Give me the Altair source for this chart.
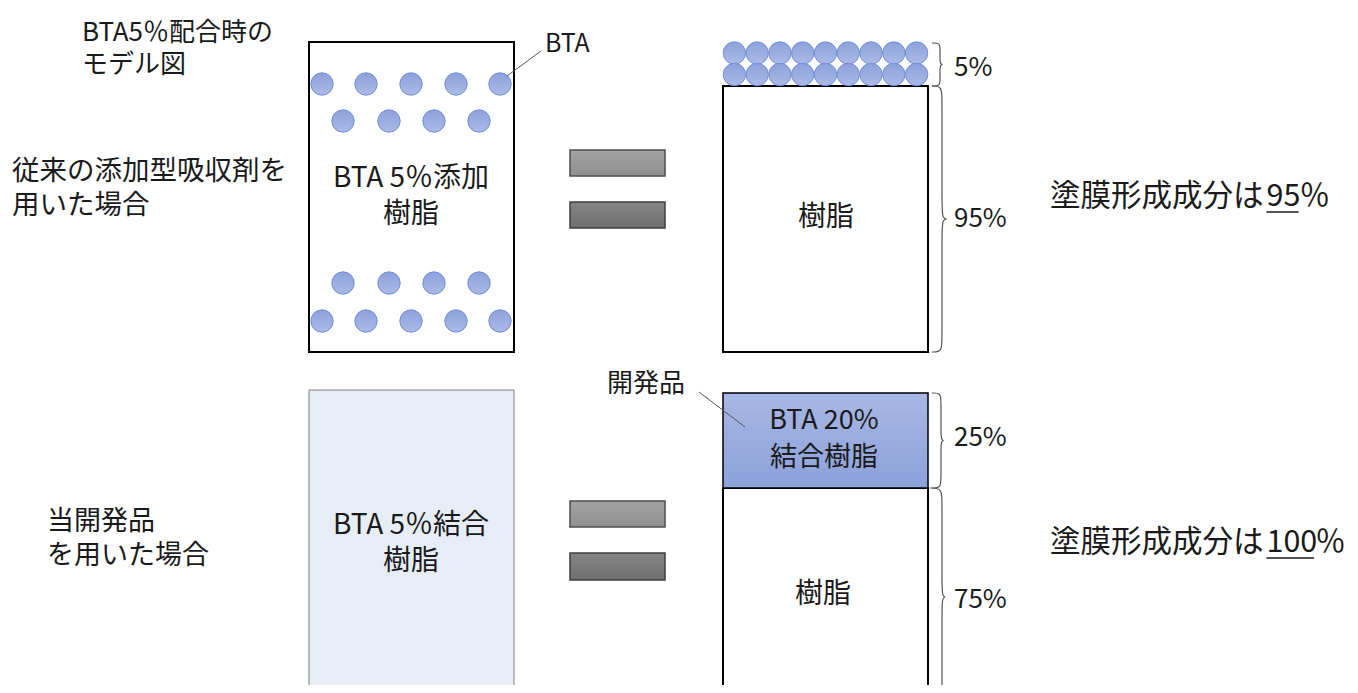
import altair as alt
import pandas as pd

# ---------------- content (values / texts) ----------------
model_title = ["BTA5％配合時の", "モデル図"]
row_label_conventional = ["従来の添加型吸収剤を", "用いた場合"]
row_label_developed = ["当開発品", "を用いた場合"]
left_box_conventional = ["BTA 5％添加", "樹脂"]
left_box_developed = ["BTA 5％結合", "樹脂"]
resin_label = "樹脂"
bound_resin_label = ["BTA 20%", "結合樹脂"]
callout_labels = ["BTA", "開発品"]
shares_conventional = [5, 95]     # BTA layer / resin
shares_developed = [25, 75]       # bound resin / resin
film_prefix = "塗膜形成成分は"
film_ratio = [95, 100]
film_suffix = "％"
balls_per_row_layer = 9           # BTA layer on top: 2 rows of 9
scatter_row_counts = [5, 4, 4, 5] # dispersed BTA in the left box

# ---------------- layout (pixel geometry of the diagram) ----------------
W, H = 1342, 677
xs = alt.Scale(domain=[8, 8 + W], nice=False, zero=False)
ys = alt.Scale(domain=[8, 8 + H], nice=False, zero=False, reverse=True)
FONT = "Noto Sans CJK JP"
INK = "#1a1a1a"

LBOX = (309, 514)
RBOX = (723, 928)
TOP = dict(box_top=42, bottom=352, layer_top=43, split=86)
BOT = dict(box_top=390, bottom=700, layer_top=393, split=488)


def X(f):
    return alt.X(f, type="quantitative", scale=xs, axis=None)


def Y(f):
    return alt.Y(f, type="quantitative", scale=ys, axis=None)


def grad(c0, c1):
    return alt.LinearGradient(
        gradient="linear",
        stops=[alt.GradientStop(color=c0, offset=0), alt.GradientStop(color=c1, offset=1)],
        x1=0, x2=0, y1=0, y2=1,
    )


def rect_layer(rows, **mark):
    df = pd.DataFrame(rows, columns=["x", "x2", "y", "y2"])
    return alt.Chart(df).mark_rect(clip=True, **mark).encode(
        x=X("x"), x2=alt.X2("x2"), y=Y("y"), y2=alt.Y2("y2")
    )


# boxes
white_boxes = rect_layer(
    [
        (LBOX[0], LBOX[1], TOP["box_top"], TOP["bottom"]),
        (RBOX[0], RBOX[1], TOP["split"], TOP["bottom"]),
        (RBOX[0], RBOX[1], BOT["split"], BOT["bottom"]),
    ],
    fill="white", stroke="#000000", strokeWidth=2,
)
light_box = rect_layer(
    [(LBOX[0], LBOX[1], BOT["box_top"], BOT["bottom"])],
    fill="#E7EDF7", stroke="#7F7F7F", strokeWidth=1,
)
blue_box = rect_layer(
    [(RBOX[0], RBOX[1], BOT["layer_top"], BOT["split"])],
    fill=grad("#A8B7E4", "#8BA1DA"), stroke="#000000", strokeWidth=1.5,
)
eq_light = rect_layer(
    [(570, 665, 150, 176), (570, 665, 501, 527)],
    fill=grad("#A3A3A3", "#909090"), stroke="#4D4D4D", strokeWidth=1.5,
)
eq_dark = rect_layer(
    [(570, 665, 202, 228), (570, 665, 553, 580)],
    fill=grad("#858585", "#6E6E6E"), stroke="#3F3F3F", strokeWidth=1.5,
)

# BTA balls
row_a = [322, 366, 411, 456, 500]
row_b = [343, 389, 434, 479]
scatter_y = [84, 121, 283, 321]
balls = []
for cnt, yy in zip(scatter_row_counts, scatter_y):
    for xx in (row_a if cnt == 5 else row_b):
        balls.append((xx, yy))
step = (RBOX[1] - RBOX[0]) / balls_per_row_layer
for yy in (53, 74.5):
    for i in range(balls_per_row_layer):
        balls.append((RBOX[0] + step * (i + 0.5), yy))
balls_df = pd.DataFrame(balls, columns=["x", "y"])
ball_layer = alt.Chart(balls_df).mark_point(
    shape="circle", size=500, filled=True, fill=grad("#8CA1DB", "#ACBAE6"),
    stroke="#6F8FD8", strokeWidth=1, opacity=1, fillOpacity=1,
).encode(x=X("x"), y=Y("y"))

# braces
def brace(bid, y0, y1, xl, stem, tip, r):
    ym = (y0 + y1) / 2
    pts = [
        (xl, y0), (stem, y0), (stem, y0 + r), (stem, ym - r), (stem, ym),
        (tip, ym), (stem, ym), (stem, ym + r), (stem, y1 - r), (stem, y1), (xl, y1),
    ]
    return [(bid, i, px, py) for i, (px, py) in enumerate(pts)]


brace_rows = []
brace_rows += brace("b5", TOP["layer_top"], TOP["split"], 932, 940, 944, 7)
brace_rows += brace("b95", TOP["split"], TOP["bottom"], 932, 942, 949, 14)
brace_rows += brace("b25", BOT["layer_top"], BOT["split"], 932, 941, 945, 10)
brace_rows += brace("b75", BOT["split"], 706, 930, 942, 947, 14)
brace_df = pd.DataFrame(brace_rows, columns=["id", "o", "x", "y"])
brace_layer = alt.Chart(brace_df).mark_line(
    interpolate="basis", stroke="#555555", strokeWidth=1.2, clip=True
).encode(x=X("x"), y=Y("y"), detail="id:N", order="o:Q")

# leader lines
leader_df = pd.DataFrame(
    [(507, 76, 541, 51), (699, 392, 745, 427)], columns=["x", "y", "x2", "y2"]
)
leader_layer = alt.Chart(leader_df).mark_rule(stroke="#555555", strokeWidth=1).encode(
    x=X("x"), y=Y("y"), x2=alt.X2("x2"), y2=alt.Y2("y2")
)

# texts
center_texts = [
    (left_box_conventional[0], 411, 179, 28),
    (left_box_conventional[1], 411, 215, 28),
    (resin_label, 826, 218, 28),
    (left_box_developed[0], 411, 526, 28),
    (left_box_developed[1], 411, 562, 28),
    (resin_label, 823, 595, 28),
    (bound_resin_label[0], 824, 421, 27),
    (bound_resin_label[1], 824, 458, 27),
]
pct_x = 954
left_texts = [
    (model_title[0], 82, 33, 26),
    (model_title[1], 82, 65, 26),
    (row_label_conventional[0], 12, 172, 27.5),
    (row_label_conventional[1], 12, 206, 27.5),
    (row_label_developed[0], 47, 522, 27),
    (row_label_developed[1], 47, 556, 27),
    (callout_labels[0], 545, 44, 25),
    (callout_labels[1], 607, 384, 26),
    (f"{shares_conventional[0]}%", pct_x, 68, 26),
    (f"{shares_conventional[1]}%", pct_x, 219, 26),
    (f"{shares_developed[0]}%", pct_x, 438, 26),
    (f"{shares_developed[1]}%", pct_x, 600, 26),
]
FS = 30.5
film_x0 = 1050
num_x = film_x0 + len(film_prefix) * FS + 3
underlines = []
for ratio, yy in zip(film_ratio, (197, 543)):
    num = str(ratio)
    num_w = len(num) * 0.51 * FS
    left_texts.append((film_prefix, film_x0, yy, FS))
    left_texts.append((num, num_x, yy, FS))
    left_texts.append((film_suffix, num_x + num_w + 2, yy, FS))
    underlines.append((num_x, yy + 15, num_x + num_w + 1, yy + 15))

ct_df = pd.DataFrame(center_texts, columns=["t", "x", "y", "s"])
lt_df = pd.DataFrame(left_texts, columns=["t", "x", "y", "s"])
center_layer = alt.Chart(ct_df).mark_text(
    align="center", baseline="middle", font=FONT, color=INK
).encode(x=X("x"), y=Y("y"), text="t:N", size=alt.Size("s:Q", scale=None))
left_layer = alt.Chart(lt_df).mark_text(
    align="left", baseline="middle", font=FONT, color=INK
).encode(x=X("x"), y=Y("y"), text="t:N", size=alt.Size("s:Q", scale=None))

ul_df = pd.DataFrame(underlines, columns=["x", "y", "x2", "y2"])
ul_layer = alt.Chart(ul_df).mark_rule(stroke=INK, strokeWidth=1.6).encode(
    x=X("x"), y=Y("y"), x2=alt.X2("x2"), y2=alt.Y2("y2")
)

chart = (
    alt.layer(
        light_box, white_boxes, blue_box, eq_light, eq_dark, ball_layer,
        brace_layer, leader_layer, center_layer, left_layer, ul_layer,
    )
    .properties(width=W, height=H, padding=0, autosize=alt.AutoSizeParams(type="none"))
    .configure_view(stroke="transparent", strokeWidth=0)
)

chart.save("out.html", embed_options={"renderer": "svg", "actions": False})
